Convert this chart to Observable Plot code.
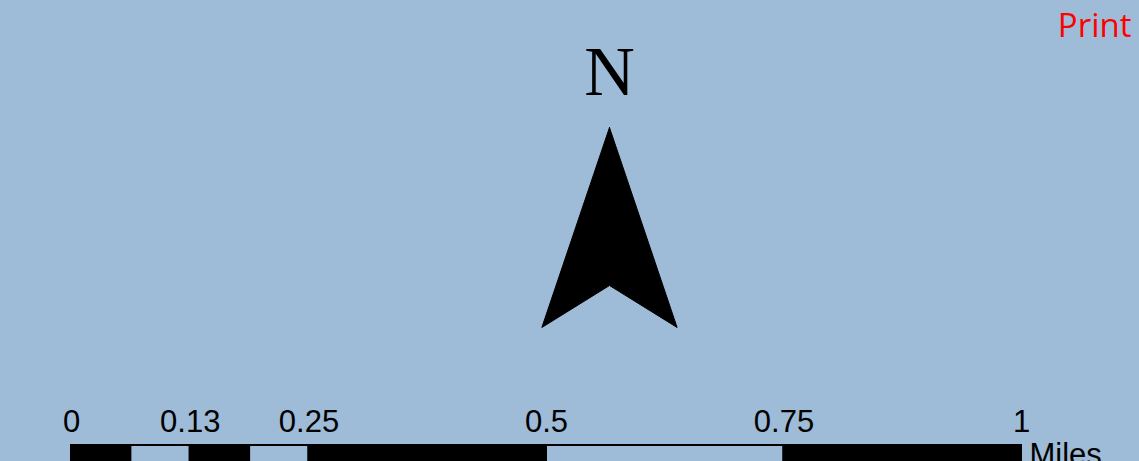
<!DOCTYPE html>
<html>
<head>
<meta charset="utf-8">
<script src="https://cdn.jsdelivr.net/npm/d3@7"></script>
<script src="https://cdn.jsdelivr.net/npm/@observablehq/plot@0.6"></script>
<style>
  html, body { margin: 0; padding: 0; background: #9ebbd8; overflow: hidden; }
</style>
</head>
<body>
<div id="chart"></div>
<script>
// Scale bar segments (miles)
const segStart = [0, 0.0625, 0.125, 0.1875, 0.25, 0.5, 0.75];
const segEnd   = [0.0625, 0.125, 0.1875, 0.25, 0.5, 0.75, 1];
const segDark  = [true, false, true, false, true, false, true];
// Tick values and labels (miles)
const tickValues = [0, 0.125, 0.25, 0.5, 0.75, 1];
const tickLabels = ["0", "0.13", "0.25", "0.5", "0.75", "1"];
const unitLabel = "Miles";
// North arrow outline (relative shape: x in half-widths, y 0=base, 1=tip)
const arrowX = [0, 1, 0, -1, 0];
const arrowY = [1, 0, 0.21, 0, 1];
const northLabel = "N";
const printLabel = "Print";

const bg = "#9ebbd8";
const segments = segStart.map((s, i) => ({x1: s, x2: segEnd[i], dark: segDark[i]}));
const ticks = tickValues.map((v, i) => ({v, label: tickLabels[i]}));

// arrow placement in chart units (x: miles, y: px from top)
const arrowCx = 0.5663, arrowHalfW = 0.0712, arrowBase = 327, arrowTip = 127;
const arrow = arrowX.map((ax, i) => ({
  x: arrowCx + ax * arrowHalfW,
  y: arrowBase - arrowY[i] * (arrowBase - arrowTip)
}));

const sans = "Liberation Sans, Arial, sans-serif";

const chart = Plot.plot({
  width: 1139,
  height: 461,
  margin: 0,
  style: {background: bg, overflow: "hidden"},
  x: {domain: [0, 1], range: [71, 1021], axis: null},
  y: {domain: [0, 461], range: [0, 461], axis: null},
  marks: [
    Plot.rect(segments, {
      x1: "x1", x2: "x2", y1: 445, y2: 470,
      fill: d => d.dark ? "black" : bg,
      stroke: "black", strokeWidth: 2
    }),
    Plot.text(ticks, {
      x: "v", y: 422, text: "label",
      fontSize: 31, fontFamily: sans, fill: "black"
    }),
    Plot.text([unitLabel], {
      x: 1, y: 455, text: d => d, dx: 8, textAnchor: "start",
      fontSize: 31, fontFamily: sans, fill: "black"
    }),
    Plot.line(arrow, {x: "x", y: "y", fill: "black", stroke: "black", strokeWidth: 1, curve: "linear"}),
    Plot.text([northLabel], {
      x: arrowCx, y: 72, text: d => d,
      fontSize: 70, fontFamily: "Liberation Serif, Times New Roman, serif", fill: "black"
    }),
    Plot.text([printLabel], {
      frameAnchor: "top-right", text: d => d, dx: -8, dy: 13, lineAnchor: "top",
      fontSize: 33, fontFamily: "Open Sans, sans-serif", fill: "red"
    })
  ]
});
document.getElementById("chart").appendChild(chart);
</script>
</body>
</html>
